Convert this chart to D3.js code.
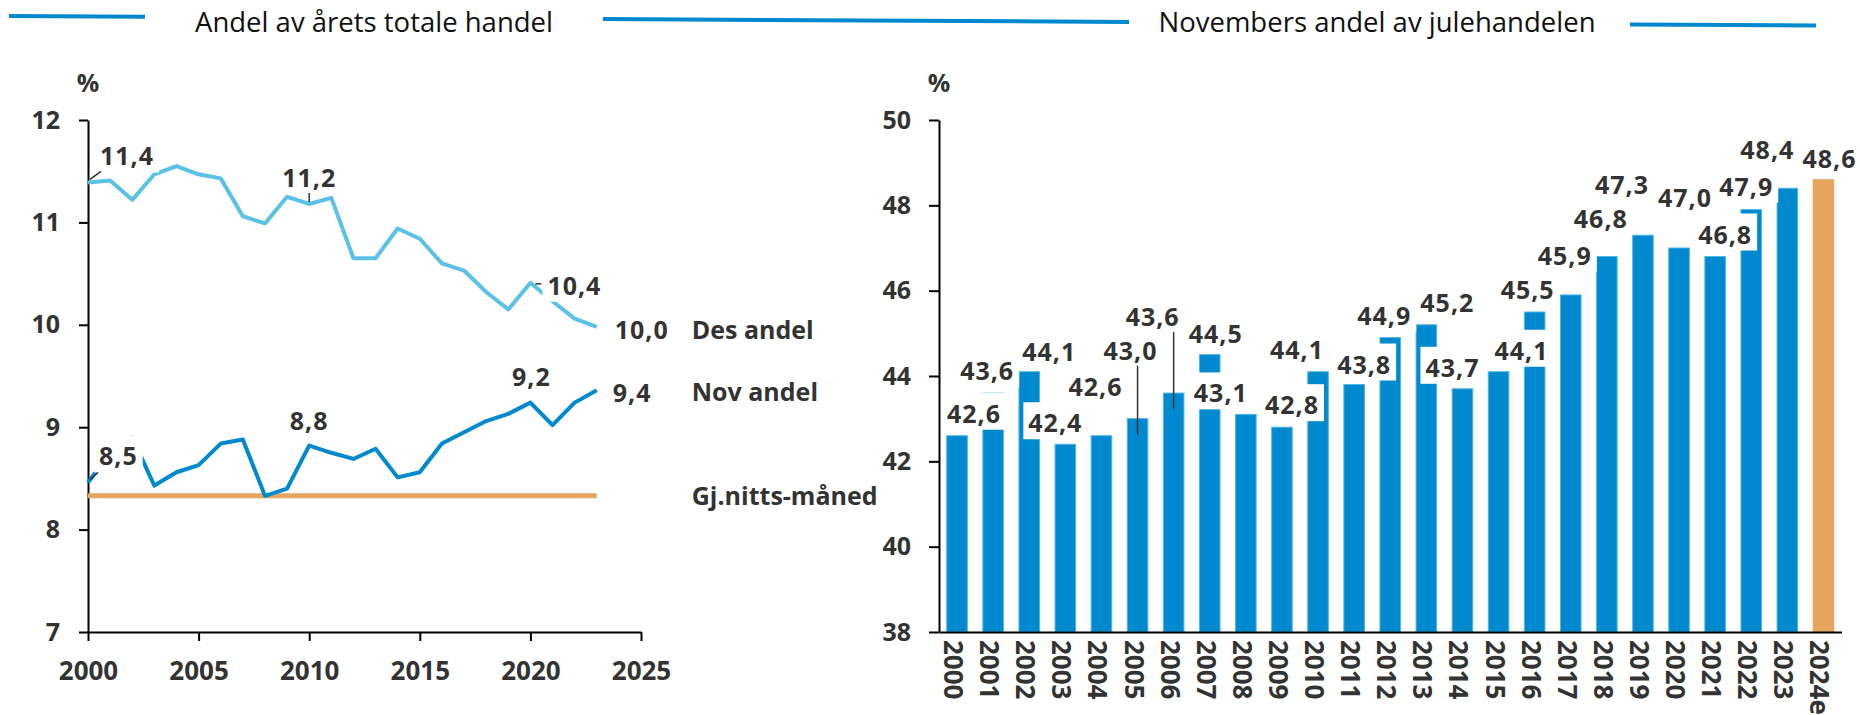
<!DOCTYPE html>
<html>
<head>
<meta charset="utf-8">
<script src="https://cdn.jsdelivr.net/npm/d3@7"></script>
<style>
  body { margin: 0; background: #fff; }
  text { font-family: "Open Sans", sans-serif; }
</style>
</head>
<body>
<svg id="chart" width="1860" height="715"></svg>
<script>
// venstre panel: andel av årets totale handel
const lineYears = [2000, 2001, 2002, 2003, 2004, 2005, 2006, 2007, 2008, 2009, 2010, 2011,
                   2012, 2013, 2014, 2015, 2016, 2017, 2018, 2019, 2020, 2021, 2022, 2023];
const desAndel = [11.39, 11.41, 11.22, 11.47, 11.55, 11.47, 11.43, 11.06, 10.99, 11.25, 11.18, 11.24,
                  10.65, 10.65, 10.94, 10.84, 10.60, 10.53, 10.32, 10.15, 10.41, 10.23, 10.06, 9.98];
const novAndel = [8.46, 8.75, 8.90, 8.43, 8.56, 8.63, 8.84, 8.88, 8.33, 8.40, 8.82, 8.75,
                  8.69, 8.79, 8.51, 8.56, 8.84, 8.95, 9.06, 9.13, 9.24, 9.02, 9.24, 9.36];
const snittManed = 8.33;
const lineYTicks = [7, 8, 9, 10, 11, 12];
const lineXTicks = [2000, 2005, 2010, 2015, 2020, 2025];

// høyre panel: novembers andel av julehandelen
const barYears = ["2000", "2001", "2002", "2003", "2004", "2005", "2006", "2007", "2008", "2009",
                  "2010", "2011", "2012", "2013", "2014", "2015", "2016", "2017", "2018", "2019",
                  "2020", "2021", "2022", "2023", "2024e"];
const julAndel = [42.6, 43.6, 44.1, 42.4, 42.6, 43.0, 43.6, 44.5, 43.1, 42.8,
                  44.1, 43.8, 44.9, 45.2, 43.7, 44.1, 45.5, 45.9, 46.8, 47.3,
                  47.0, 46.8, 47.9, 48.4, 48.6];
const barYTicks = [38, 40, 42, 44, 46, 48, 50];

// plassering av etiketter (px i forhold til punkt / stolpetopp)
const desLabels = [
  { i: 0, dx: 12, dy: -17, anchor: "start", leader: [2, -3, 13, -11] },
  { i: 10, dx: 0, dy: -17, anchor: "middle", leader: [0, -11, 0, -2] },
  { i: 20, dx: 17, dy: 12, anchor: "start", leader: [5, 1, 11, 1] },
  { i: 23, dx: 18, dy: 12, anchor: "start" }
];
const novLabels = [
  { i: 0, dx: 11, dy: -17, anchor: "start", leader: [2, -3, 10, -10] },
  { i: 10, dx: 0, dy: -16, anchor: "middle" },
  { i: 20, dx: 1, dy: -17, anchor: "middle" },
  { i: 23, dx: 16, dy: 12, anchor: "start" }
];
const barLabelOffsets = [
  [17, -13], [-6, -13], [20, -11], [-10, -12], [-6, -40], [-7, -59], [-21, -67], [6, -12],
  [-25, -12], [10, -13], [-21, -13], [10, -11], [-6, -13], [21, -13], [-10, -12], [23, -12],
  [-7, -13], [-6, -30], [-6, -29], [-21, -41], [6, -41], [10, -13], [-5, -14], [-20, -29], [6, -12]
];

const ink = "#333333";
const blue = "#0089cf";
const lightBlue = "#5bc2e7";
const orange = "#e5a55d";
const fmt = v => d3.format(".1f")(v).replace(".", ",");

const svg = d3.select("#chart");

// overskrift med linje
const headY = x => 16 + (x - 9) * 0.00526;
[[9, 145], [603, 1129], [1630, 1816]].forEach(s => {
  svg.append("line")
    .attr("x1", s[0]).attr("y1", headY(s[0]))
    .attr("x2", s[1]).attr("y2", headY(s[1]))
    .attr("stroke", blue).attr("stroke-width", 4);
});
svg.append("text").attr("x", 374).attr("y", 32).attr("text-anchor", "middle")
  .attr("font-size", "27.5px").attr("fill", "#111").text("Andel av årets totale handel");
svg.append("text").attr("x", 1377).attr("y", 32).attr("text-anchor", "middle")
  .attr("font-size", "27.5px").attr("fill", "#111").text("Novembers andel av julehandelen");

function label(g, x, y, str, anchor) {
  const gl = g.append("g");
  const r = gl.append("rect").attr("fill", "#fff");
  const t = gl.append("text")
    .attr("x", x).attr("y", y)
    .attr("text-anchor", anchor)
    .attr("font-size", "25px").attr("font-weight", "bold")
    .attr("letter-spacing", "1px")
    .attr("fill", ink).text(str);
  const b = t.node().getBBox();
  r.attr("x", b.x - 5).attr("y", y - 30).attr("width", b.width + 10).attr("height", 37);
}

function styleAxis(g) {
  g.selectAll("path, line").attr("stroke", "#000").attr("stroke-width", 2);
  g.selectAll("text").attr("font-size", "25px").attr("font-weight", "bold")
    .attr("fill", ink).attr("font-family", "Open Sans, sans-serif");
}

// ---------- venstre ----------
const xL = d3.scaleLinear().domain([2000, 2025]).range([88, 641]);
const yL = d3.scaleLinear().domain([7, 12]).range([632, 120]);
const left = svg.append("g");

left.append("g").attr("transform", "translate(88,0)")
  .call(d3.axisLeft(yL).tickValues(lineYTicks).tickFormat(d3.format("d"))
    .tickSize(9).tickSizeOuter(0).tickPadding(19))
  .call(styleAxis);
left.append("g").attr("transform", "translate(0,632)")
  .call(d3.axisBottom(xL).tickValues(lineXTicks).tickFormat(d3.format("d"))
    .tickSize(9).tickSizeOuter(0).tickPadding(21))
  .call(styleAxis)
  .call(g => g.selectAll("text").attr("font-size", "26px"));
left.append("text").attr("x", 88).attr("y", 92).attr("text-anchor", "middle")
  .attr("font-size", "25px").attr("font-weight", "bold").attr("fill", ink).text("%");

left.append("line")
  .attr("x1", xL(lineYears[0])).attr("x2", xL(lineYears[lineYears.length - 1]))
  .attr("y1", yL(snittManed)).attr("y2", yL(snittManed))
  .attr("stroke", orange).attr("stroke-width", 5);

const line = d3.line().x((d, i) => xL(lineYears[i])).y(d => yL(d));
left.append("path").datum(desAndel).attr("d", line)
  .attr("fill", "none").attr("stroke", lightBlue).attr("stroke-width", 4).attr("stroke-linejoin", "round");
left.append("path").datum(novAndel).attr("d", line)
  .attr("fill", "none").attr("stroke", blue).attr("stroke-width", 4).attr("stroke-linejoin", "round");

const leaders = [];
[[desLabels, desAndel], [novLabels, novAndel]].forEach(([labs, vals]) => {
  labs.forEach(l => {
    const px = xL(lineYears[l.i]), py = yL(vals[l.i]);
    label(left, px + l.dx, py + l.dy, fmt(vals[l.i]), l.anchor);
    if (l.leader) leaders.push([px + l.leader[0], py + l.leader[1], px + l.leader[2], py + l.leader[3]]);
  });
});
leaders.forEach(s => {
  left.append("line").attr("x1", s[0]).attr("y1", s[1]).attr("x2", s[2]).attr("y2", s[3])
    .attr("stroke", ink).attr("stroke-width", 1.5);
});

const nameX = xL(2023) + 95;
[["Des andel", yL(desAndel[23]) + 12], ["Nov andel", yL(novAndel[23]) + 11], ["Gj.nitts-måned", yL(snittManed) + 9]]
  .forEach(n => {
    left.append("text").attr("x", nameX).attr("y", n[1])
      .attr("font-size", "25px").attr("font-weight", "bold").attr("fill", ink).text(n[0]);
  });

// ---------- høyre ----------
const xR = d3.scaleBand().domain(barYears).range([939, 1841.5]).paddingInner(0.43).paddingOuter(0.215);
const yR = d3.scaleLinear().domain([38, 50]).range([632, 120]);
const right = svg.append("g");

right.append("g").attr("transform", "translate(939,0)")
  .call(d3.axisLeft(yR).tickValues(barYTicks).tickSize(10).tickSizeOuter(0).tickPadding(18))
  .call(styleAxis);
right.append("text").attr("x", 939).attr("y", 92).attr("text-anchor", "middle")
  .attr("font-size", "25px").attr("font-weight", "bold").attr("fill", ink).text("%");

right.selectAll("rect.bar").data(julAndel).join("rect")
  .attr("class", "bar")
  .attr("x", (d, i) => xR(barYears[i]))
  .attr("width", xR.bandwidth())
  .attr("y", d => yR(d))
  .attr("height", d => yR(38) - yR(d))
  .attr("fill", (d, i) => barYears[i].endsWith("e") ? orange : blue)
  .attr("stroke", (d, i) => barYears[i].endsWith("e") ? orange : "#4fb6e6")
  .attr("stroke-width", 1);

right.append("g").attr("transform", "translate(0,632)")
  .call(d3.axisBottom(xR).tickSize(0).tickSizeOuter(0).tickFormat(""))
  .call(styleAxis);

right.selectAll("text.year").data(barYears).join("text")
  .attr("class", "year")
  .attr("transform", d => `translate(${xR(d) + xR.bandwidth() / 2},640) rotate(90)`)
  .attr("dy", "0.5em")
  .attr("font-size", "26px").attr("font-weight", "bold").attr("fill", ink)
  .text(d => d);

const barLeaders = [];
julAndel.forEach((v, i) => {
  const cx = xR(barYears[i]) + xR.bandwidth() / 2;
  const o = barLabelOffsets[i];
  label(right, cx + o[0], yR(v) + o[1], fmt(v), "middle");
  if (o[1] < -50) barLeaders.push([cx, yR(v) + o[1] + 6, yR(v) + 16]);
});
barLeaders.forEach(s => {
  right.append("line").attr("x1", s[0]).attr("x2", s[0]).attr("y1", s[1]).attr("y2", s[2])
    .attr("stroke", ink).attr("stroke-width", 1.5);
});
</script>
</body>
</html>
